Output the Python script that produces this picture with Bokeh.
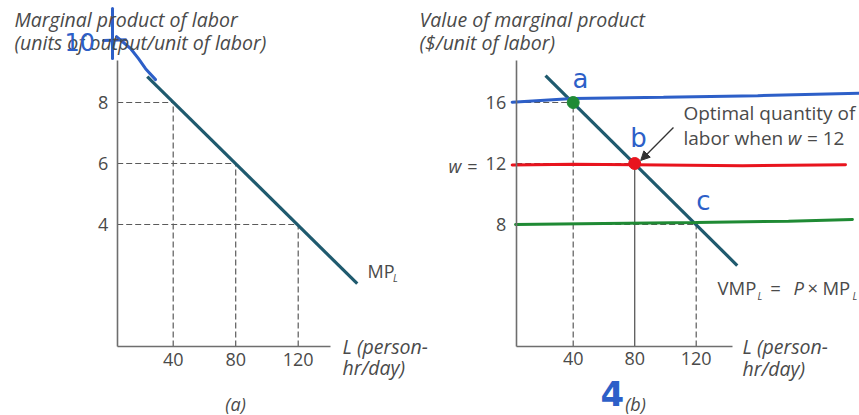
from bokeh.plotting import figure
from bokeh.models import (Label, Arrow, NormalHead, LinearAxis, FixedTicker,
                          Range1d)
from bokeh.embed import file_html
from bokeh.resources import INLINE

# ---------------- data ----------------
L_ticks = [40, 80, 120]
mp_vals = [8, 6, 4]            # panel (a): MP_L at L_ticks
mp_line_L = [23.4, 157.8]      # MP_L line ends (L)
mp_line_v = [8.85, 2.06]       # MP_L line ends (units/unit of labor)

vmp_vals = [16, 12, 8]         # panel (b): VMP at L_ticks
vmp_line_L = [22.0, 146.7]
vmp_line_v = [17.77, 5.31]

# hand-drawn wage lines / points (panel b)
blue_L = [0.3, 39.7, 98.7, 160, 226.2]
blue_v = [16.02, 16.26, 16.35, 16.45, 16.61]
red_L = [0.3, 40, 80, 150, 217.1]
red_v = [11.9, 11.95, 11.92, 11.85, 11.92]
green_L = [2.5, 60, 119.5, 180, 221.6]
green_v = [8.0, 8.06, 8.13, 8.22, 8.33]
dot_L = [40, 80]
dot_v = [16, 12]
dot_colors = ["#1f8a34", "#e8141e"]

# hand-drawn strokes (panel a, near the top of the y axis)
pen_vert_L = [1.15, 1.15]
pen_vert_v = [11.08, 9.44]
pen_hor_L = [-4.6, 9.5]
pen_hor_v = [10.03, 10.06]
pen_curve_L = [3.7, 12.7, 17.8, 22.3, 28.7]
pen_curve_v = [10.16, 9.77, 9.44, 9.11, 8.75]

# ---------------- style ----------------
FONT = "Open Sans"
TXT = "#4a4a4a"
AXC = "#6e6e6e"
CURVE = "#1f5a6e"
DASH = "#5a5a5a"
BLUE = "#2d5fc8"
PEN = "DejaVu Sans"
TITLE_SIZE = "19.5px"
ANN_SIZE = "19px"

p = figure(width=859, height=415,
           x_range=Range1d(-70.53, 479.23), y_range=Range1d(-2.262, 11.344),
           output_backend="svg", toolbar_location=None,
           x_axis_location=None, y_axis_location=None,
           min_border_left=0, min_border_right=0,
           min_border_top=0, min_border_bottom=0)
p.extra_x_ranges = {"xb": Range1d(-332.49, 226.21)}
p.extra_y_ranges = {"yb": Range1d(-4.525, 22.689)}
p.grid.visible = False
p.outline_line_color = None
p.background_fill_color = "white"
p.border_fill_color = "white"

B = dict(x_range_name="xb", y_range_name="yb")


def style_axis(ax, standoff):
    ax.axis_line_color = AXC
    ax.axis_line_width = 1.6
    ax.major_tick_line_color = None
    ax.minor_tick_line_color = None
    ax.major_tick_out = 0
    ax.major_tick_in = 0
    ax.major_label_text_font = FONT
    ax.major_label_text_font_size = "18px"
    ax.major_label_text_color = TXT
    ax.major_label_standoff = standoff


def lab(x, y, text, size=ANN_SIZE, style="normal", color=TXT, align="left",
        font=FONT, panel_b=False):
    kw = B if panel_b else {}
    p.add_layout(Label(x=x, y=y, text=text, text_font=font,
                       text_font_size=size, text_font_style=style,
                       text_color=color, text_align=align,
                       text_baseline="middle", **kw))


# ================= panel (a) =================
ax0_a = 4.16
xa = LinearAxis(fixed_location=0, bounds=(ax0_a, 140.7),
                ticker=FixedTicker(ticks=L_ticks))
ya = LinearAxis(fixed_location=ax0_a, bounds=(0, 9.38),
                ticker=FixedTicker(ticks=mp_vals))
style_axis(xa, 6)
style_axis(ya, 9)
p.add_layout(xa, "below")
p.add_layout(ya, "left")

p.segment(x0=[ax0_a] * 3, y0=mp_vals, x1=L_ticks, y1=mp_vals,
          line_color=DASH, line_dash="6 3", line_width=1.2)
p.segment(x0=L_ticks, y0=[0] * 3, x1=L_ticks, y1=mp_vals,
          line_color=DASH, line_dash="6 3", line_width=1.2)
p.line(mp_line_L, mp_line_v, line_color=CURVE, line_width=3.2)

lab(-61.57, 10.72, "Marginal product of labor", size=TITLE_SIZE, style="italic")
lab(-61.57, 9.97, "(units of output/unit of labor)", size=TITLE_SIZE, style="italic")
lab(164.35, 2.49, "MP", size="18px")
lab(180.6, 2.24, "L", size="10px", style="italic")
lab(148.35, 0.0, "L (person-", size=TITLE_SIZE, style="italic")
lab(148.35, -0.69, "hr/day)", size=TITLE_SIZE, style="italic")
lab(79.9, -1.87, "(a)", size="18px", style="italic", align="center")

# pen marks (panel a)
lab(-29.6, 9.97, "10", size="24px", color=BLUE, font=PEN)
p.line(pen_vert_L, pen_vert_v, line_color=BLUE, line_width=3, line_cap="round")
p.line(pen_hor_L, pen_hor_v, line_color=BLUE, line_width=3, line_cap="round")
p.line(pen_curve_L, pen_curve_v, line_color=BLUE, line_width=3, line_cap="round")

# ================= panel (b) =================
ax0_b = 2.93
xb = LinearAxis(fixed_location=0, bounds=(ax0_b, 143.6),
                ticker=FixedTicker(ticks=L_ticks), **B)
yb = LinearAxis(fixed_location=ax0_b, bounds=(0, 18.75),
                ticker=FixedTicker(ticks=vmp_vals), **B)
style_axis(xb, 6)
style_axis(yb, 10)
p.add_layout(xb, "below")
p.add_layout(yb, "left")

p.segment(x0=[ax0_b] * 3, y0=vmp_vals, x1=L_ticks, y1=vmp_vals,
          line_color=DASH, line_dash="6 3", line_width=1.2, **B)
p.segment(x0=[L_ticks[0], L_ticks[2]], y0=[0, 0],
          x1=[L_ticks[0], L_ticks[2]], y1=[vmp_vals[0], vmp_vals[2]],
          line_color=DASH, line_dash="6 3", line_width=1.2, **B)
p.segment(x0=[L_ticks[1]], y0=[0], x1=[L_ticks[1]], y1=[vmp_vals[1]],
          line_color=DASH, line_width=1.3, **B)
p.line(vmp_line_L, vmp_line_v, line_color=CURVE, line_width=3.2, **B)

# hand-drawn wage lines and points
p.line(blue_L, blue_v, line_color=BLUE, line_width=3, line_cap="round", **B)
p.line(red_L, red_v, line_color="#e8141e", line_width=3, line_cap="round", **B)
p.line(green_L, green_v, line_color="#1f8a34", line_width=3, line_cap="round", **B)
p.scatter(dot_L, dot_v, size=12, color=dot_colors, **B)

p.add_layout(Arrow(end=NormalHead(size=9, fill_color="#333333", line_color="#333333"),
                   x_start=105.2, y_start=14.36, x_end=83.9, y_end=12.2,
                   line_color="#333333", line_width=1.3, **B))

lab(-59.97, 21.44, "Value of marginal product", size=TITLE_SIZE, style="italic", panel_b=True)
lab(-59.97, 19.93, "($/unit of labor)", size=TITLE_SIZE, style="italic", panel_b=True)
lab(-41.1, 11.85, "w", size="18px", style="italic", panel_b=True)
lab(-28.9, 11.85, "=", size="18px", panel_b=True)
lab(111.7, 15.28, "Optimal quantity of", panel_b=True)
lab(111.7, 13.70, "labor when", panel_b=True)
lab(179.5, 13.70, "w", style="italic", panel_b=True)
lab(192.0, 13.70, "= 12", panel_b=True)
lab(133.9, 3.89, "VMP", size="18.5px", panel_b=True)
lab(159.9, 3.34, "L", size="10px", style="italic", panel_b=True)
lab(168.2, 3.89, "=", size="18.5px", panel_b=True)
lab(183.3, 3.89, "P", size="18.5px", style="italic", panel_b=True)
lab(192.4, 3.89, "\u00d7", size="18.5px", panel_b=True)
lab(202.1, 3.89, "MP", size="18.5px", panel_b=True)
lab(221.6, 3.34, "L", size="10px", style="italic", panel_b=True)
lab(150.1, 0.0, "L (person-", size=TITLE_SIZE, style="italic", panel_b=True)
lab(150.1, -1.44, "hr/day)", size=TITLE_SIZE, style="italic", panel_b=True)
lab(80.5, -3.74, "(b)", size="18px", style="italic", align="center", panel_b=True)

# pen letters (panel b)
lab(44.7, 17.57, "a", size="26px", color=BLUE, align="center", font=PEN, panel_b=True)
lab(82.5, 13.64, "b", size="26px", color=BLUE, align="center", font=PEN, panel_b=True)
lab(124.7, 9.57, "c", size="26px", color=BLUE, align="center", font=PEN, panel_b=True)
lab(65.5, -3.08, "4", size="34px", color=BLUE, align="center", font=PEN,
    style="bold", panel_b=True)

open("out.html", "w").write(file_html(p, INLINE))
